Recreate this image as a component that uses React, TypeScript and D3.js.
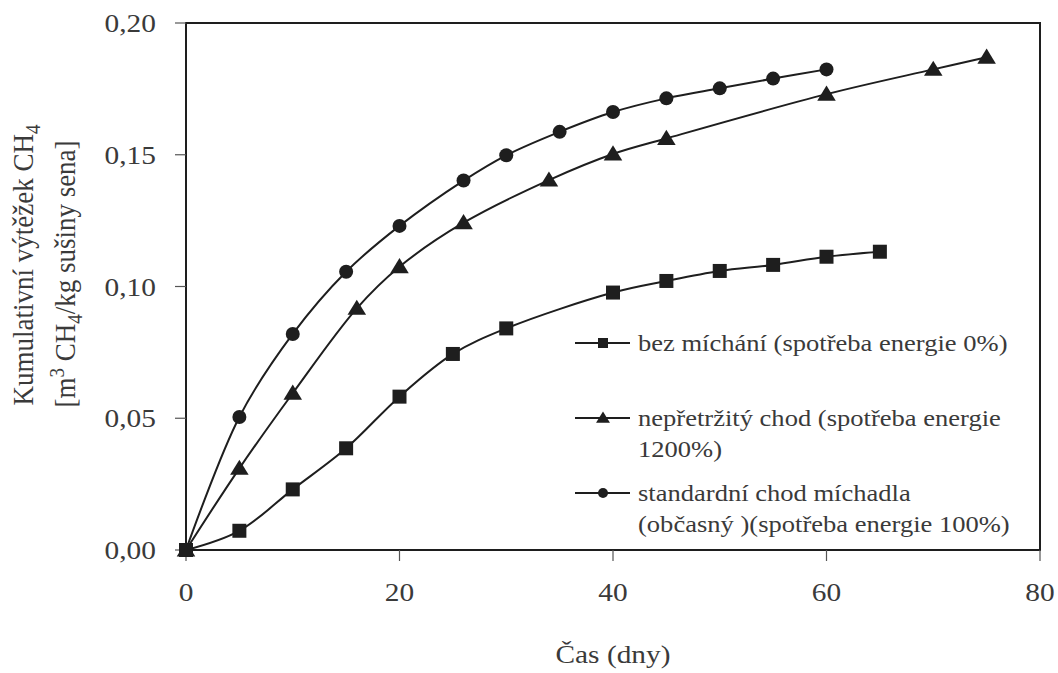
import * as d3 from 'd3';

// days + cumulative CH4 yield
const dniBez = [0, 5, 10, 15, 20, 25, 30, 40, 45, 50, 55, 60, 65];
const bezMichani = [0, 0.0073, 0.023, 0.0386, 0.0582, 0.0744, 0.0841, 0.0977, 0.1021, 0.1059, 0.1082, 0.1113, 0.1132];

const dniNep = [0, 5, 10, 16, 20, 26, 34, 40, 45, 60, 70, 75];
const nepretrzity = [0, 0.031, 0.0595, 0.0917, 0.1075, 0.1242, 0.1404, 0.1503, 0.1562, 0.173, 0.1824, 0.187];

const dniStd = [0, 5, 10, 15, 20, 26, 30, 35, 40, 45, 50, 55, 60];
const standardni = [0, 0.0505, 0.082, 0.1056, 0.123, 0.1402, 0.1498, 0.1587, 0.1662, 0.1714, 0.1752, 0.1789, 0.1824];

const xTicks = [0, 20, 40, 60, 80];
const yTicks = [0, 0.05, 0.1, 0.15, 0.2];

const legendItems = [
  { marker: 'square', lines: ['bez míchání (spotřeba energie 0%)'] },
  { marker: 'triangle', lines: ['nepřetržitý chod (spotřeba energie', '1200%)'] },
  { marker: 'circle', lines: ['standardní chod míchadla', '(občasný )(spotřeba energie 100%)'] },
];

const W = 1058;
const H = 673;
const margin = { top: 23, right: 18, bottom: 123, left: 186 };
const FONT = '"Liberation Serif", "Times New Roman", serif';
const INK = '#1e1e1e';
const TEXT = '#3a3a3a';
const SX = 1.13; // the figure's type is a bit wide

function Marker({ type, x, y, s }: { type: string; x: number; y: number; s: number }) {
  if (type === 'square') {
    return <rect x={x - s / 2} y={y - s / 2} width={s} height={s} fill={INK} />;
  }
  if (type === 'circle') {
    return <circle cx={x} cy={y} r={s / 2} fill={INK} />;
  }
  const h = s * 0.9;
  return (
    <path
      d={`M${x},${y - h * 0.6} L${x + s * 0.58},${y + h * 0.45} L${x - s * 0.58},${y + h * 0.45} Z`}
      fill={INK}
    />
  );
}

export default function App() {
  const iw = W - margin.left - margin.right;
  const ih = H - margin.top - margin.bottom;

  const x = d3.scaleLinear().domain([0, 80]).range([margin.left, margin.left + iw]);
  const y = d3.scaleLinear().domain([0, 0.2]).range([margin.top + ih, margin.top]);

  const line = d3
    .line<[number, number]>()
    .x(d => x(d[0]))
    .y(d => y(d[1]))
    .curve(d3.curveCatmullRom.alpha(0.5));

  const series = [
    { marker: 'square', days: dniBez, vals: bezMichani },
    { marker: 'triangle', days: dniNep, vals: nepretrzity },
    { marker: 'circle', days: dniStd, vals: standardni },
  ];

  const fmt = (v: number) => d3.format('.2f')(v).replace('.', ',');
  const legendX = 575;
  const legendY = [343, 418, 493];

  return (
    <div style={{ position: 'absolute', left: 0, top: 0 }}>
      <svg width={W} height={H} style={{ display: 'block', background: '#fff', fontFamily: FONT }}>
        {/* frame */}
        <rect x={margin.left} y={margin.top} width={iw} height={ih} fill="none" stroke={INK} strokeWidth={2} />

        {/* y ticks */}
        {yTicks.map(t => (
          <g key={`y${t}`}>
            <line x1={margin.left - 11} x2={margin.left} y1={y(t)} y2={y(t)} stroke="#555" strokeWidth={1.2} />
            <text
              transform={`translate(${margin.left - 30},${y(t) + 9}) scale(${SX},1)`}
              textAnchor="end"
              fontSize={26}
              fill={TEXT}
            >
              {fmt(t)}
            </text>
          </g>
        ))}

        {/* x ticks */}
        {xTicks.map(t => (
          <g key={`x${t}`}>
            <line x1={x(t)} x2={x(t)} y1={y(0)} y2={y(0) + 11} stroke="#555" strokeWidth={1.2} />
            <text
              transform={`translate(${x(t)},${y(0) + 51}) scale(${SX},1)`}
              textAnchor="middle"
              fontSize={26}
              fill={TEXT}
            >
              {t}
            </text>
          </g>
        ))}

        {/* axis titles */}
        <text transform={`translate(${x(40)},${663}) scale(${SX},1)`} textAnchor="middle" fontSize={26} fill={TEXT}>
          Čas (dny)
        </text>
        <text transform={`translate(33,265) rotate(-90) scale(1,${SX})`} textAnchor="middle" fontSize={27} fill={TEXT}>
          Kumulativní výtěžek CH<tspan dy={6} fontSize={19}>4</tspan>
        </text>
        <text transform={`translate(75,274) rotate(-90) scale(1,${SX})`} textAnchor="middle" fontSize={27} fill={TEXT}>
          [m<tspan dy={-10} fontSize={19}>3</tspan>
          <tspan dy={10}> CH</tspan>
          <tspan dy={6} fontSize={19}>4</tspan>
          <tspan dy={-6}>/kg sušiny sena]</tspan>
        </text>

        {/* series */}
        {series.map(s => {
          const pts = s.days.map((d, i) => [d, s.vals[i]] as [number, number]);
          return (
            <g key={s.marker}>
              <path d={line(pts) || ''} fill="none" stroke={INK} strokeWidth={2} />
              {pts.map((p, i) => (
                <Marker key={i} type={s.marker} x={x(p[0])} y={y(p[1])} s={s.marker === 'triangle' ? 16 : 14} />
              ))}
            </g>
          );
        })}

        {/* legend */}
        {legendItems.map((it, i) => (
          <g key={it.marker}>
            <line x1={legendX} x2={legendX + 55} y1={legendY[i]} y2={legendY[i]} stroke={INK} strokeWidth={2} />
            <Marker type={it.marker} x={legendX + 28} y={legendY[i]} s={it.marker === 'triangle' ? 12 : 10} />
            {it.lines.map((l, j) => (
              <text
                key={j}
                transform={`translate(${legendX + 63},${legendY[i] + 8 + j * 31}) scale(${SX},1)`}
                fontSize={23.5}
                fill={TEXT}
              >
                {l}
              </text>
            ))}
          </g>
        ))}
      </svg>
    </div>
  );
}
